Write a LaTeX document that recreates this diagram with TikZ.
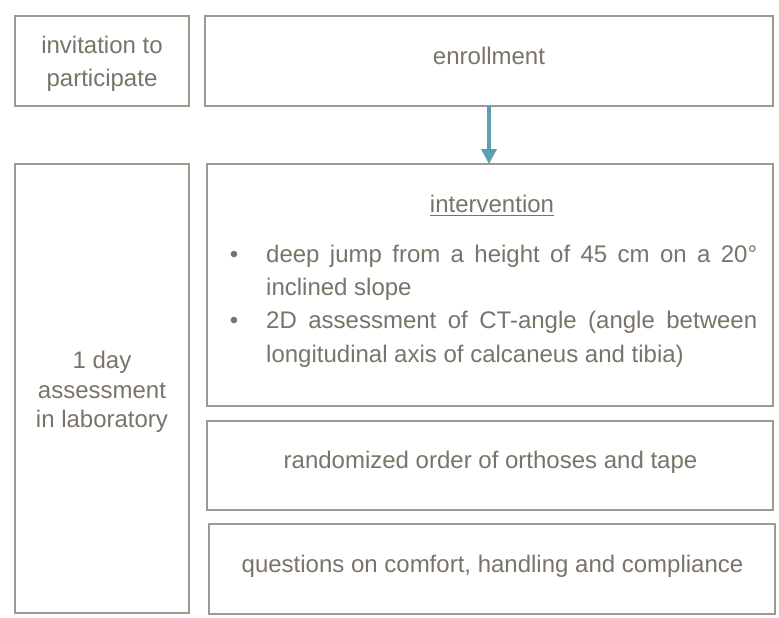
\documentclass[tikz,border=0pt]{standalone}
\usepackage{fontspec}
\setmainfont{Liberation Sans}
\usetikzlibrary{arrows.meta}
\definecolor{bordc}{HTML}{A0998D}
\definecolor{txtc}{HTML}{7A7468}
\definecolor{arrc}{HTML}{5A9FB2}
\begin{document}
\begin{tikzpicture}[x=1pt,y=-1pt,
  box/.style={draw=bordc, line width=2.6pt, inner sep=0pt, outer sep=0pt, fill=white},
  lbl/.style={text=txtc, font=\fontsize{24}{30}\selectfont, inner sep=0pt, anchor=base},
  lbll/.style={lbl, anchor=base west},
  arr/.style={draw=arrc, line width=4pt, -{Triangle[width=15pt,length=15pt]}}]
\useasboundingbox[fill=white] (0,0) rectangle (779,618);
% boxes
\node[box, minimum width=174pt, minimum height=90pt] (inv) at (102,61) {};
\node[box, minimum width=568pt, minimum height=90pt] (enr) at (489,61) {};
\node[box, minimum width=174pt, minimum height=449pt] (day) at (102,388.5) {};
\node[box, minimum width=566pt, minimum height=242pt] (int) at (490,285) {};
\node[box, minimum width=566pt, minimum height=89pt] (rnd) at (490,465.5) {};
\node[box, minimum width=566pt, minimum height=90pt] (que) at (492,569) {};
% arrow
\coordinate (ax) at (489,0);
\draw[arr] (ax |- enr.south) -- (ax |- int.north);
% texts
\node[lbl] (inv1) at (102,54) {invitation to};
\node[lbl] (inv2) at (102,87) {participate};
\node[lbl] (enrt) at (489,64) {enrollment};
\node[lbl] (day1) at (102,368) {1 day};
\node[lbl] (day2) at (102,398) {assessment};
\node[lbl] (day3) at (102,427) {in laboratory};
\node[lbl] (title) at (492,212) {intervention};
\draw[txtc, line width=1.3pt] ([yshift=-3.5pt]title.base west) -- ([yshift=-3.5pt]title.base east);
\node[lbl] (b1) at (234,262) {•};
\node[lbl] (b2) at (234,328) {•};
\node[lbll] (l1) at (266,262) {\makebox[491pt][s]{deep jump from a height of 45 cm on a 20°}};
\node[lbll] (l2) at (266,295) {inclined slope};
\node[lbll] (l3) at (266,328) {\makebox[491pt][s]{2D assessment of CT-angle (angle between}};
\node[lbll] (l4) at (266,362) {longitudinal axis of calcaneus and tibia)};
\node[lbl] (rndt) at (490.5,468) {randomized order of orthoses and tape};
\node[lbl] (quet) at (492.5,572) {questions on comfort, handling and compliance};
\end{tikzpicture}
\end{document}
